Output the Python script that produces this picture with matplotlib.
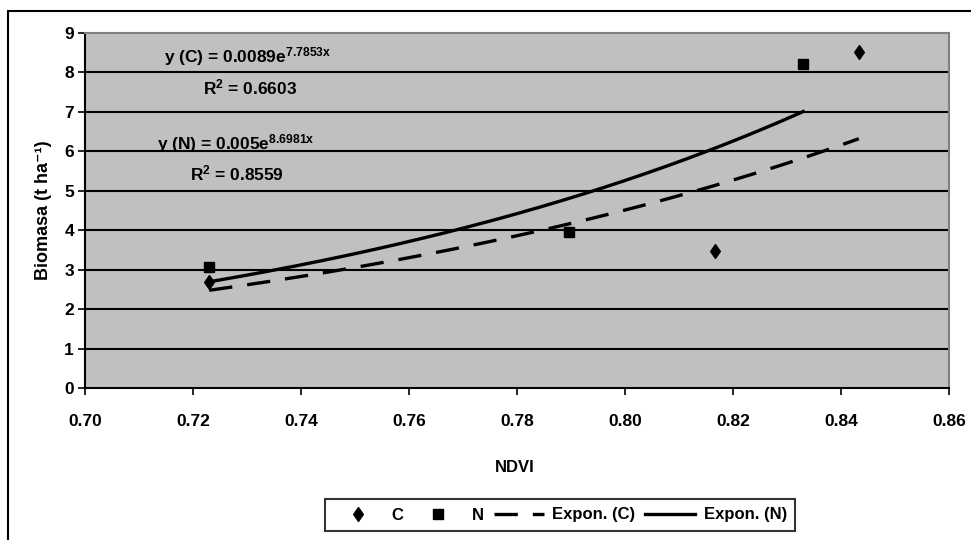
import numpy as np
import matplotlib.pyplot as plt
from matplotlib.patches import Rectangle

# Data
ndvi_c = [0.723, 0.8167, 0.8433]
bio_c = [2.69, 3.48, 8.53]
ndvi_n = [0.723, 0.7896, 0.833]
bio_n = [3.07, 3.96, 8.22]

# Exponential trendline coefficients shown on the chart (y = a*e^(b*x))
coef_c = [0.0089, 7.7853]
coef_n = [0.005, 8.6981]
r2_c = 0.6603
r2_n = 0.8559

xticks = [0.70, 0.72, 0.74, 0.76, 0.78, 0.80, 0.82, 0.84, 0.86]
yticks = list(range(0, 10))

plt.rcParams['font.family'] = ['Liberation Sans', 'DejaVu Sans']
plt.rcParams['font.weight'] = 'bold'
plt.rcParams['mathtext.fontset'] = 'custom'
plt.rcParams['mathtext.rm'] = 'Liberation Sans:bold'
plt.rcParams['mathtext.it'] = 'Liberation Sans:bold'
plt.rcParams['mathtext.bf'] = 'Liberation Sans:bold'

W, H = 971, 540
fig = plt.figure(figsize=(W / 100, H / 100), dpi=100)
ax = fig.add_axes([85 / W, 1 - 388 / H, (949 - 85) / W, (388 - 33) / H])
ax.set_facecolor('#C0C0C0')

# outer chart border
fig.patches.append(Rectangle((8 / W, -0.05), 1.1, 1 - 11 / H + 0.05, transform=fig.transFigure,
                             fill=False, edgecolor='black', linewidth=1.5))

for y in yticks[1:-1]:
    ax.axhline(y, color='black', linewidth=1.5, zorder=1)

# trendlines
xc = np.linspace(min(ndvi_c), max(ndvi_c), 200)
xn = np.linspace(min(ndvi_n), max(ndvi_n), 200)
ax.plot(xc, coef_c[0] * np.exp(coef_c[1] * xc), color='black', linewidth=2.4,
        dashes=(7, 4.5), label='Expon. (C)', zorder=3)
ax.plot(xn, coef_n[0] * np.exp(coef_n[1] * xn), color='black', linewidth=2.4,
        label='Expon. (N)', zorder=3)

diamond = [(0, 1), (0.7, 0), (0, -1), (-0.7, 0), (0, 1)]
ax.plot(ndvi_c, bio_c, linestyle='none', marker=diamond, markersize=10, color='black', label='C', zorder=4)
ax.plot(ndvi_n, bio_n, linestyle='none', marker='s', markersize=7, color='black', label='N', zorder=4)

ax.set_xlim(0.70, 0.86)
ax.set_ylim(0, 9)
ax.set_xticks(xticks)
ax.set_xticklabels([f'{v:.2f}' for v in xticks])
ax.set_yticks(yticks)
ax.tick_params(axis='both', labelsize=12.5, direction='out', length=5, width=1.2)
ax.tick_params(axis='x', pad=14)
ax.tick_params(axis='y', pad=3)
for s in ['top', 'right']:
    ax.spines[s].set_color('#808080')
    ax.spines[s].set_linewidth(1.5)
for s in ['left', 'bottom']:
    ax.spines[s].set_color('black')
    ax.spines[s].set_linewidth(1.5)

# equations
ax.text(0.7302, 8.4, 'y (C) = %se$^{%sx}$' % (coef_c[0], coef_c[1]), fontsize=12.5, ha='center', va='center')
ax.text(0.7306, 7.62, 'R$^{2}$ = %.4f' % r2_c, fontsize=12.5, ha='center', va='center')
ax.text(0.7280, 6.2, 'y (N) = %se$^{%sx}$' % (coef_n[0], coef_n[1]), fontsize=12.5, ha='center', va='center')
ax.text(0.7281, 5.44, 'R$^{2}$ = %.4f' % r2_n, fontsize=12.5, ha='center', va='center')

fig.text(515 / W, 1 - 467 / H, 'NDVI', fontsize=12, ha='center', va='center')
fig.text(43 / W, 1 - 210 / H, 'Biomasa (t ha⁻¹)', fontsize=13, rotation=90, ha='center', va='center')

handles, labels = ax.get_legend_handles_labels()
order = [2, 3, 0, 1]
leg = fig.legend([handles[i] for i in order], [labels[i] for i in order], ncol=4,
                 loc='center', bbox_to_anchor=(560 / W, 1 - 515 / H), bbox_transform=fig.transFigure,
                 fontsize=12, frameon=True, fancybox=False, edgecolor='black',
                 handlelength=3.0, columnspacing=0.6, handletextpad=0.5, borderpad=0.5)
leg.get_frame().set_linewidth(1.5)

fig.savefig('out.png', dpi=100)
